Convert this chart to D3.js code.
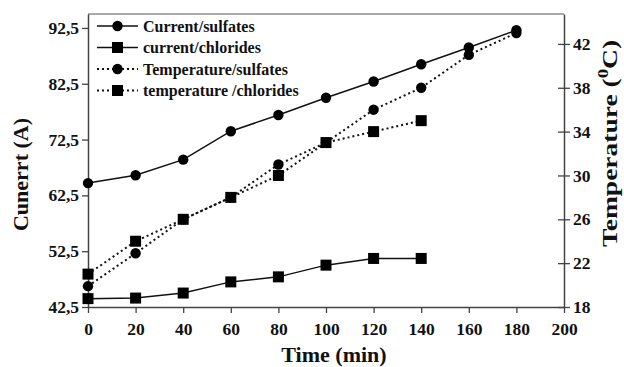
<!DOCTYPE html>
<html>
<head>
<meta charset="utf-8">
<script src="https://cdn.jsdelivr.net/npm/d3@7"></script>
<style>
  body { margin: 0; background: #fff; }
  svg text { font-family: "Liberation Serif", "Times New Roman", serif; font-weight: bold; fill: #111; }
</style>
</head>
<body>
<div id="chart"></div>
<script>
// data
const times = [0, 20, 40, 60, 80, 100, 120, 140, 160, 180];
const currentSulfates = [64.7, 66.1, 68.9, 74.0, 76.9, 80.0, 82.9, 86.0, 89.0, 92.1];
const currentChlorides = [44.0, 44.1, 45.0, 47.0, 47.9, 50.0, 51.2, 51.2];
const tempSulfates = [19.9, 22.9, 26.0, 28.0, 31.0, 33.0, 36.0, 38.0, 41.0, 43.0];
const tempChlorides = [21, 24, 26, 28, 30, 33, 34, 35];
const xTicks = [0, 20, 40, 60, 80, 100, 120, 140, 160, 180, 200];
const leftTicks = [42.5, 52.5, 62.5, 72.5, 82.5, 92.5];
const rightTicks = [18, 22, 26, 30, 34, 38, 42];

const series = [
  {name: "Current/sulfates", values: currentSulfates, axis: "left", marker: "circle", dotted: false},
  {name: "current/chlorides", values: currentChlorides, axis: "left", marker: "square", dotted: false},
  {name: "Temperature/sulfates", values: tempSulfates, axis: "right", marker: "circle", dotted: true},
  {name: "temperature /chlorides", values: tempChlorides, axis: "right", marker: "square", dotted: true}
];

const margin = {top: 14, right: 60, bottom: 60, left: 88},
    width = 624 - margin.left - margin.right,
    height = 367 - margin.top - margin.bottom;

const svg = d3.select("#chart")
    .append("svg")
    .attr("width", 624)
    .attr("height", 367)
    .append("g")
    .attr("transform", `translate(${margin.left}, ${margin.top})`);

const x = d3.scaleLinear().domain([0, 200]).range([0, width]);
const yL = d3.scaleLinear().domain([42.5, 95]).range([height, 0]);
const yR = d3.scaleLinear().domain([18, 44.73]).range([height, 0]);

// top frame line
svg.append("line")
    .attr("x1", 0).attr("x2", width)
    .attr("y1", 0).attr("y2", 0)
    .attr("stroke", "#555").attr("stroke-width", 1.2);

// X axis
const gx = svg.append("g")
    .attr("transform", `translate(0, ${height})`)
    .call(d3.axisBottom(x).tickValues(xTicks).tickSize(6).tickSizeOuter(0).tickPadding(10));
gx.selectAll("text").style("font-size", "17.5px");

// left axis
const gl = svg.append("g")
    .call(d3.axisLeft(yL).tickValues(leftTicks).tickFormat(d => d3.format(".1f")(d).replace(".", ","))
      .tickSize(6).tickSizeOuter(0).tickPadding(3));
gl.selectAll("text").style("font-size", "17.5px");

// right axis with crossing ticks
const gr = svg.append("g")
    .attr("transform", `translate(${width}, 0)`)
    .call(d3.axisRight(yR).tickValues(rightTicks).tickSize(6).tickSizeOuter(0).tickPadding(3));
gr.selectAll(".tick line").attr("x1", -6);
gr.selectAll("text").style("font-size", "17.5px");

[gx, gl, gr].forEach(g => {
  g.select(".domain").attr("stroke", "#444").attr("stroke-width", 1.5);
  g.selectAll(".tick line").attr("stroke", "#444").attr("stroke-width", 1.3);
});

// axis titles
svg.append("text")
    .attr("x", x(100) + 8).attr("y", height + 55)
    .attr("text-anchor", "middle")
    .style("font-size", "22px")
    .text("Time (min)");

svg.append("text")
    .attr("transform", `translate(-60, ${height / 2 + 14}) rotate(-90)`)
    .attr("text-anchor", "middle")
    .style("font-size", "22px")
    .text("Cunerrt (A)");

// the right title is drawn stretched along its length in the original
const rt = svg.append("text")
    .attr("transform", `translate(${width + 53}, ${height / 2 - 17}) rotate(-90) scale(1.25, 1)`)
    .attr("text-anchor", "middle")
    .style("font-size", "22px");
rt.append("tspan").text("Temperature (");
rt.append("tspan").attr("dy", -9).style("font-size", "15px").text("0");
rt.append("tspan").attr("dy", 9).text("C)");

// lines and markers
function drawMarker(g, type, cx, cy) {
  if (type === "circle") {
    g.append("circle").attr("cx", cx).attr("cy", cy).attr("r", 5.2).attr("fill", "#000");
  } else {
    g.append("rect").attr("x", cx - 5.5).attr("y", cy - 5.5)
      .attr("width", 11).attr("height", 11).attr("fill", "#000");
  }
}

series.forEach(s => {
  const y = s.axis === "left" ? yL : yR;
  const pts = s.values.map((v, i) => [x(times[i]), y(v)]);
  svg.append("path")
      .attr("d", d3.line()(pts))
      .attr("fill", "none")
      .attr("stroke", "#111")
      .attr("stroke-width", s.dotted ? 2 : 1.5)
      .attr("stroke-dasharray", s.dotted ? "2,3" : null);
  const mg = svg.append("g");
  pts.forEach(p => drawMarker(mg, s.marker, p[0], p[1]));
});

// legend
const legend = svg.append("g").attr("transform", "translate(9, 12)");
series.forEach((s, i) => {
  const row = legend.append("g").attr("transform", `translate(0, ${i * 21.5})`);
  row.append("line")
      .attr("x1", 0).attr("x2", 41)
      .attr("stroke", "#111")
      .attr("stroke-width", s.dotted ? 2 : 1.5)
      .attr("stroke-dasharray", s.dotted ? "2,3" : null);
  drawMarker(row, s.marker, 20.5, 0);
  row.append("text")
      .attr("x", 46).attr("y", 5.5)
      .style("font-size", "16px")
      .text(s.name);
});
</script>
</body>
</html>
